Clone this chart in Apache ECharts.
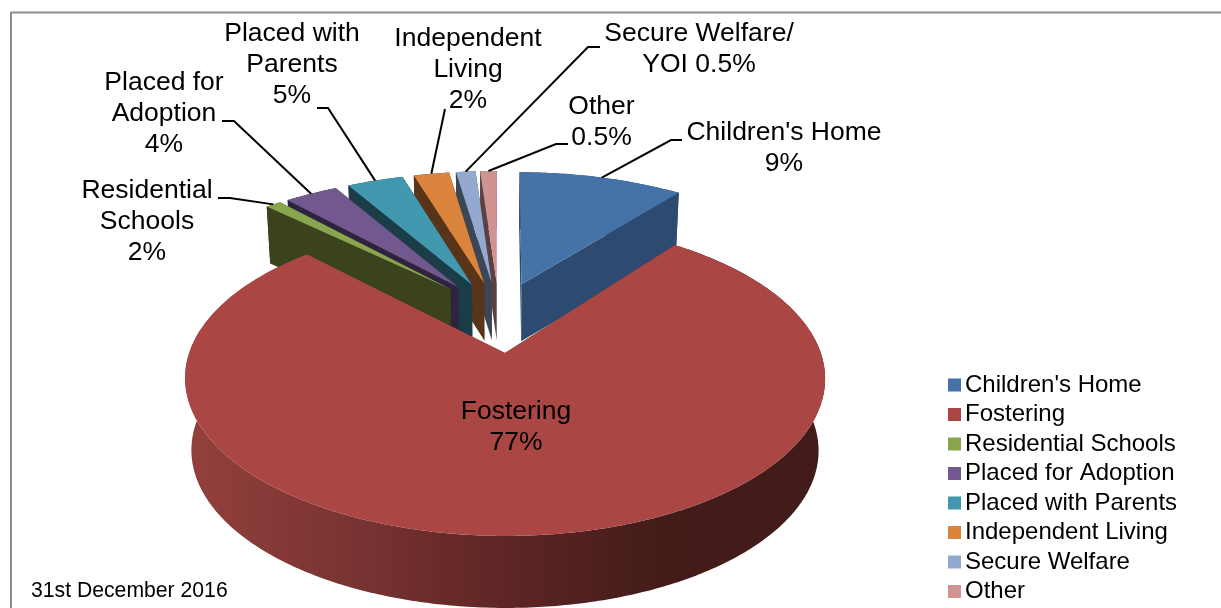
<!DOCTYPE html>
<html>
<head>
<meta charset="utf-8">
<style>html,body{margin:0;padding:0;background:#fff}#c{width:1221px;height:608px}</style>
<script src="https://cdn.jsdelivr.net/npm/echarts@6/dist/echarts.min.js"></script>
</head>
<body>
<div id="c"></div>
<script>
// Data
const categories = ["Children's Home","Fostering","Residential Schools","Placed for Adoption","Placed with Parents","Independent Living","Secure Welfare","Other"];
// The wedge sizes as drawn in the picture (estimated from the wedge geometry)
const drawnShares = [9.6,77.3,0.92,3.11,3.28,2.06,1.14,0.97];
// The percentages as printed in the picture's labels
const labelledPercents = [9,77,2,4,5,2,0.5,0.5];
const labelNames = ["Children's Home","Fostering","Residential\nSchools","Placed for\nAdoption","Placed with\nParents","Independent\nLiving","Secure Welfare/\nYOI","Other"];
const labelJoiners = ["\n","\n","\n","\n","\n","\n"," ","\n"];
const footnote = "31st December 2016";

// Style and layout
const topColors  = ['#4572A7','#AA4643','#89A54E','#71588F','#4198AF','#DB843D','#93A9CF','#D19392'];
const wallColors = ['#2D4A70','#7A2F2D','#3A421E','#2E2440','#1A3D48','#5A3418','#3B4656','#5A4040'];
const fontFamily = '"Liberation Sans", Arial, sans-serif';
const explode = 0.25;
// The source's 3D view: the large front wedge and the back wedges sit at different depths
const backView  = {x0:499,  y0:309.2, A:310,   B:103.7, p:-0.05,  q:0.1,    depth:57, shrink:0.985};
const frontView = {x0:500.3,y0:316.1, A:303.5, B:141.7, p:0.1557, q:0.1557, depth:72, shrink:0.98};
const labelLayout = [
  {x:784, y:148.5, leader:[[682,140],[671,140]]},
  {x:516, y:427.5, leader:null},
  {x:147, y:222, leader:[[218,198],[230,198]]},
  {x:164, y:114, leader:[[222,121],[234,121]]},
  {x:292, y:65, leader:[[317,108],[328,108]]},
  {x:468, y:70, leader:[[445,109]]},
  {x:699, y:49.5, leader:[[600,47],[588,47]]},
  {x:601.5, y:122, leader:[[568,144],[556,144]]}
];

const rad = s => s/100*2*Math.PI;
// Wedges run clockwise from 12 o'clock; those after Fostering are laid back from 12 o'clock,
// and Fostering is centred in the room that is left between the two groups.
const starts = [];
starts[0] = 0;
let back = 100;
for (let i = drawnShares.length-1; i >= 2; i--) { back -= drawnShares[i]; starts[i] = back; }
starts[1] = (drawnShares[0] + starts[2])/2 - drawnShares[1]/2;

function project(v,X,Y){
  return [v.x0+v.A*X/(1-v.q*Y), v.y0+v.B*Y/(1-v.p*Y)];
}
function sliceGeom(i,value){
  const v = i===1 ? frontView : backView;
  const a0=rad(starts[i]), a1=a0+rad(value), mid=(a0+a1)/2;
  const cx=explode*Math.sin(mid), cy=-explode*Math.cos(mid);
  const onArc=t=>project(v,cx+Math.sin(t),cy-Math.cos(t));
  const steps=Math.max(4,Math.ceil((a1-a0)/0.012));
  const arc=[];
  for(let k=0;k<=steps;k++) arc.push(onArc(a0+(a1-a0)*k/steps));
  const lower=pt=>[v.x0+(pt[0]-v.x0)*v.shrink, pt[1]+v.depth];
  return {apex:project(v,cx,cy),arc,anchor:onArc(mid),lower};
}

function makeRender(i){
  return function(params,api){
    const g=sliceGeom(i,api.value(0));
    const wallFill = i===1
      ? new echarts.graphic.LinearGradient(190,0,825,0,[
          {offset:0,color:'#93403C'},{offset:0.3,color:'#743130'},
          {offset:0.5,color:'#5D2524'},{offset:0.74,color:'#431C1A'},
          {offset:1,color:'#421C1A'}],true)
      : wallColors[i];
    const wallStyle={fill:wallFill,stroke:null};
    const last=g.arc[g.arc.length-1];
    const quad=(a,b)=>[a,b,g.lower(b),g.lower(a)];
    const children=[
      {type:'polygon',shape:{points:quad(g.apex,g.arc[0])},style:wallStyle},
      {type:'polygon',shape:{points:quad(g.apex,last)},style:wallStyle},
      {type:'polygon',shape:{points:g.arc.concat(g.arc.map(g.lower).reverse())},style:wallStyle},
      {type:'polygon',shape:{points:[g.apex].concat(g.arc)},style:{fill:topColors[i],stroke:null}}
    ];
    const lay=labelLayout[i];
    if(lay.leader){
      children.push({type:'polyline',shape:{points:lay.leader.concat([g.anchor])},
        style:{fill:null,stroke:'#000',lineWidth:2}});
    }
    children.push({type:'text',style:{
      text:labelNames[i]+labelJoiners[i]+labelledPercents[i]+'%',
      x:lay.x,y:lay.y,align:'center',verticalAlign:'middle',
      font:'26.5px '+fontFamily,lineHeight:31,fill:'#000'}});
    return {type:'group',children};
  };
}

// Painted from the back: Other first, Fostering last
const paintOrder=[7,6,5,4,3,2,0,1];
const series=paintOrder.map(i=>({
  type:'custom',name:categories[i],coordinateSystem:'none',silent:true,
  animation:false,clip:false,
  itemStyle:{color:topColors[i]},
  renderItem:makeRender(i),
  data:[[drawnShares[i]]]
}));

const chart=echarts.init(document.getElementById('c'),null,{renderer:'canvas'});
chart.setOption({
  animation:false,
  backgroundColor:'#fff',
  legend:{
    data:categories,orient:'vertical',left:948,top:373,padding:0,
    icon:'rect',itemWidth:13,itemHeight:13,itemGap:5.5,selectedMode:false,
    textStyle:{fontFamily:fontFamily,fontSize:24,color:'#000',lineHeight:24,padding:[0,0,0,-1]}
  },
  graphic:[
    {type:'line',shape:{x1:11,y1:12.5,x2:1221,y2:12.5},style:{stroke:'#8c8c8c',lineWidth:2}},
    {type:'line',shape:{x1:11,y1:12,x2:11,y2:608},style:{stroke:'#8c8c8c',lineWidth:2}},
    {type:'text',style:{text:footnote,x:31,y:591,verticalAlign:'middle',font:'21.2px '+fontFamily,fill:'#000'}}
  ],
  series
});
</script>
</body>
</html>
